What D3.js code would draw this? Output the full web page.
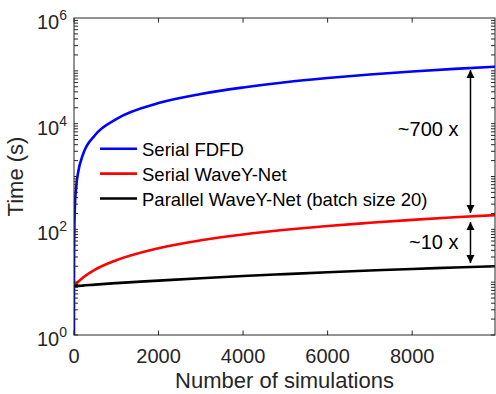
<!DOCTYPE html>
<html>
<head>
<meta charset="utf-8">
<script src="https://cdn.jsdelivr.net/npm/d3@7"></script>
<style>
  body { margin: 0; background: #fff; }
  svg { display: block; font-family: "Liberation Sans", Arial, sans-serif; }
</style>
</head>
<body>
<div id="chart"></div>
<script>
// number of simulations (x) and time in seconds for each run type
var sims      = [0, 1, 2, 5, 10, 20, 50, 100, 200, 500, 1000, 2000, 3000, 4000, 5000, 6000, 7000, 8000, 9000, 9960];
var serialFDFD = [1, 12, 25, 60, 120, 245, 610, 1220, 2450, 6100, 12200, 24500, 36500, 48500, 61000, 73000, 85000, 97000, 109000, 120000];
var serialWave = [8.4, 8.4, 8.4, 8.5, 8.6, 8.8, 9.3, 10.2, 12, 17.3, 26, 44, 62, 80, 98, 116, 133, 151, 169, 186];
var parallelWave = [8.4, 8.4, 8.4, 8.4, 8.4, 8.4, 8.5, 8.5, 8.6, 9.0, 9.6, 10.7, 11.9, 13.1, 14.2, 15.4, 16.6, 17.8, 18.9, 20.0];

var seriesNames = ["Serial FDFD", "Serial WaveY-Net", "Parallel WaveY-Net (batch size 20)"];
var seriesColors = ["#0000ff", "#ff0000", "#000000"];
var seriesValues = [serialFDFD, serialWave, parallelWave];

var xTicks = [0, 2000, 4000, 6000, 8000];
var yExponents = [0, 2, 4, 6];

// speed-up annotations: arrow at n = 9380, spanning [top, bottom] in seconds
var arrowN = 9380;
var arrowSpans = [[1.04e5, 204], [138, 23]];
var arrowLabels = ["~700 x", "~10 x"];
var arrowLabelAt = [5840, 42.4];

var width = 496,
    height = 394,
    margin = {left: 74, right: 1, top: 18, bottom: 59};

var axisColor = "#262626";

var svg = d3.select("#chart").append("svg")
    .attr("width", width)
    .attr("height", height);

var x = d3.scaleLinear()
    .domain([0, 9960])
    .range([margin.left, width - margin.right]);

var y = d3.scaleLog()
    .domain([1, 1e6])
    .range([height - margin.bottom, margin.top]);

var x0 = x.range()[0], x1 = x.range()[1];
var y0 = y.range()[0], y1 = y.range()[1];

// lines
var clipId = "plotclip";
svg.append("clipPath").attr("id", clipId)
  .append("rect")
    .attr("x", x0).attr("y", y1)
    .attr("width", x1 - x0).attr("height", y0 - y1);

var line = d3.line()
    .x(d => x(d[0]))
    .y(d => y(d[1]))
    .curve(d3.curveMonotoneX);

seriesValues.forEach(function(vals, k){
  svg.append("path")
    .attr("clip-path", "url(#" + clipId + ")")
    .attr("d", line(sims.map((n, i) => [n, vals[i]])))
    .attr("fill", "none")
    .attr("stroke", seriesColors[k])
    .attr("stroke-width", 2.6);
});

// box
var g = svg.append("g").attr("stroke", axisColor).attr("stroke-width", 1).attr("fill", "none");
g.append("rect")
  .attr("x", x0).attr("y", y1)
  .attr("width", x1 - x0).attr("height", y0 - y1);

// x ticks (bottom and top, inward)
xTicks.forEach(function(t){
  g.append("line").attr("x1", x(t)).attr("x2", x(t)).attr("y1", y0).attr("y2", y0 - 4.5);
  g.append("line").attr("x1", x(t)).attr("x2", x(t)).attr("y1", y1).attr("y2", y1 + 4.5);
});

// y ticks, major and minor, on both sides
for (var e = 0; e < 6; e++) {
  for (var m = 1; m < 10; m++) {
    var v = m * Math.pow(10, e);
    var len = 4;
    g.append("line").attr("x1", x0).attr("x2", x0 + len).attr("y1", y(v)).attr("y2", y(v));
    g.append("line").attr("x1", x1).attr("x2", x1 - len).attr("y1", y(v)).attr("y2", y(v));
  }
}

// tick labels
svg.selectAll("xlab")
  .data(xTicks)
  .enter().append("text")
    .attr("x", d => x(d))
    .attr("y", y0 + 28)
    .attr("text-anchor", "middle")
    .attr("font-size", 20)
    .attr("fill", axisColor)
    .text(d => d);

var ylab = svg.selectAll("ylab")
  .data(yExponents)
  .enter().append("text")
    .attr("x", x0 - 7)
    .attr("y", d => y(Math.pow(10, d)) + 11)
    .attr("text-anchor", "end")
    .attr("font-size", 20)
    .attr("fill", axisColor);
ylab.append("tspan").text("10");
ylab.append("tspan").attr("dy", -9).attr("font-size", 14).text(d => d);

// axis titles
svg.append("text")
  .attr("x", (x0 + x1) / 2)
  .attr("y", 388)
  .attr("text-anchor", "middle")
  .attr("font-size", 22)
  .attr("fill", axisColor)
  .text("Number of simulations");

svg.append("text")
  .attr("transform", "translate(23," + ((y0 + y1) / 2) + ") rotate(-90)")
  .attr("text-anchor", "middle")
  .attr("font-size", 22)
  .attr("fill", axisColor)
  .text("Time (s)");

// legend
var legend = svg.append("g");
seriesNames.forEach(function(name, i){
  var ly = 148.7 + i * 24.9;
  legend.append("line")
    .attr("x1", 100).attr("x2", 137)
    .attr("y1", ly).attr("y2", ly)
    .attr("stroke", seriesColors[i])
    .attr("stroke-width", 2.6);
  legend.append("text")
    .attr("x", 142)
    .attr("y", ly + 7)
    .attr("font-size", 18.5)
    .attr("fill", "#000")
    .text(name);
});

// arrows
var defs = svg.append("defs");
defs.append("marker")
  .attr("id", "head")
  .attr("viewBox", "0 0 10 10")
  .attr("refX", 10).attr("refY", 5)
  .attr("markerWidth", 5.5).attr("markerHeight", 5.5)
  .attr("markerUnits", "strokeWidth")
  .attr("orient", "auto-start-reverse")
  .append("path")
    .attr("d", "M0,0 L10,5 L0,10 z")
    .attr("fill", "#000");

arrowSpans.forEach(function(span, i){
  svg.append("line")
    .attr("x1", x(arrowN)).attr("x2", x(arrowN))
    .attr("y1", y(span[0])).attr("y2", y(span[1]))
    .attr("stroke", "#000")
    .attr("stroke-width", 1.5)
    .attr("marker-start", "url(#head)")
    .attr("marker-end", "url(#head)");
  svg.append("text")
    .attr("x", x(arrowN) - 12)
    .attr("y", y(arrowLabelAt[i]))
    .attr("text-anchor", "end")
    .attr("font-size", 20)
    .attr("fill", "#000")
    .text(arrowLabels[i]);
});
</script>
</body>
</html>
